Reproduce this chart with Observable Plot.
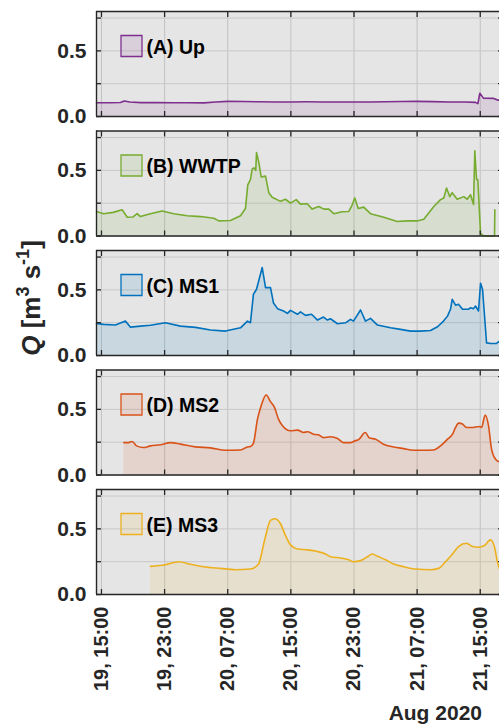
<!DOCTYPE html>
<html>
<head>
<meta charset="utf-8">
<script src="https://cdn.jsdelivr.net/npm/d3@7"></script>
<script src="https://cdn.jsdelivr.net/npm/@observablehq/plot@0.6"></script>
<style>
  html, body { margin: 0; padding: 0; overflow: hidden; background: white; }
  #chart { width: 499px; height: 726px; overflow: hidden; }
</style>
</head>
<body>
<div id="chart"></div>
<script>
// ---- Data (hours since 2020-08-19 00:00 UTC, discharge m3/s) ----
const sites = ["(A) Up", "(B) WWTP", "(C) MS1", "(D) MS2", "(E) MS3"];
const siteColors = ["#7E2F8E", "#77AC30", "#0072BD", "#D95319", "#EDB120"];

const upHours = [14.37, 16, 17.4, 17.9, 18.6, 20, 22, 24, 26, 28, 29.5, 31, 33, 35, 37, 39, 41, 43, 45, 47, 49, 51, 53, 55, 57, 59, 61, 62.4, 62.7, 62.95, 63.4, 64.7, 65.2, 65.44];
const upQ     = [0.105, 0.105, 0.107, 0.118, 0.11, 0.106, 0.107, 0.105, 0.105, 0.104, 0.11, 0.115, 0.114, 0.112, 0.11, 0.111, 0.112, 0.111, 0.111, 0.11, 0.111, 0.112, 0.114, 0.115, 0.113, 0.111, 0.11, 0.108, 0.098, 0.177, 0.14, 0.138, 0.125, 0.125];

const wwtpHours = [14.37, 15.29, 16.5, 17.62, 18.26, 19.0, 19.52, 19.94, 21.21, 22.69, 24.16, 25.86, 27.55, 29.23, 29.87, 31.35, 32.62, 33.25, 33.54, 33.88, 34.10, 34.30, 34.55, 34.65, 34.94, 35.24, 35.79, 36.20, 36.63, 37.69, 38.32, 38.95, 39.68, 40.22, 41.07, 41.70, 42.54, 43.18, 43.81, 44.44, 45.51, 46.34, 46.69, 47.10, 47.53, 48.24, 49.09, 50.78, 52.48, 53.75, 55.01, 55.85, 57.12, 57.97, 58.38, 58.73, 59.14, 59.45, 60.08, 60.92, 61.35, 61.77, 62.15, 62.31, 62.53, 62.69, 63.04, 63.46, 64.72, 64.81, 64.85];
const wwtpQ     = [0.187, 0.17, 0.18, 0.2, 0.143, 0.145, 0.17, 0.148, 0.17, 0.19, 0.17, 0.154, 0.148, 0.135, 0.115, 0.118, 0.154, 0.21, 0.39, 0.43, 0.51, 0.52, 0.5, 0.635, 0.56, 0.45, 0.456, 0.33, 0.295, 0.264, 0.28, 0.25, 0.277, 0.243, 0.246, 0.205, 0.225, 0.205, 0.205, 0.17, 0.185, 0.187, 0.225, 0.29, 0.21, 0.22, 0.17, 0.143, 0.11, 0.115, 0.115, 0.128, 0.225, 0.277, 0.29, 0.366, 0.3, 0.33, 0.28, 0.3, 0.28, 0.315, 0.24, 0.65, 0.43, 0.43, 0.02, 0.0, 0.0, 0.0, 0.2];

const ms1Hours = [14.37, 15.25, 16.77, 18.04, 18.68, 19.94, 21.21, 23.11, 25.01, 26.91, 28.82, 30.72, 32.62, 33.50, 33.88, 34.26, 34.65, 35.37, 35.79, 36.42, 36.80, 37.31, 38.07, 38.57, 38.95, 39.84, 40.22, 40.86, 41.62, 42.38, 43.14, 43.64, 44.02, 44.91, 45.93, 46.56, 46.94, 47.83, 48.46, 49.09, 49.98, 51.63, 52.90, 54.16, 55.43, 56.70, 57.59, 58.35, 58.85, 59.23, 59.45, 59.87, 60.25, 60.75, 61.51, 61.77, 62.15, 62.40, 62.78, 63.04, 63.29, 63.80, 64.31, 65.06, 65.44];
const ms1Q     = [0.245, 0.237, 0.232, 0.262, 0.216, 0.224, 0.23, 0.25, 0.224, 0.214, 0.194, 0.186, 0.211, 0.262, 0.25, 0.467, 0.505, 0.67, 0.517, 0.517, 0.4, 0.357, 0.339, 0.321, 0.344, 0.314, 0.333, 0.306, 0.314, 0.27, 0.293, 0.27, 0.28, 0.242, 0.249, 0.275, 0.262, 0.347, 0.262, 0.283, 0.232, 0.211, 0.199, 0.186, 0.186, 0.191, 0.219, 0.262, 0.3, 0.352, 0.428, 0.383, 0.39, 0.352, 0.352, 0.364, 0.357, 0.377, 0.339, 0.551, 0.505, 0.096, 0.092, 0.092, 0.11];

const ms2Hours = [17.83, 18.42, 18.89, 19.44, 20.32, 21.21, 22.48, 23.75, 25.01, 26.91, 28.82, 30.72, 32.62, 33.50, 33.88, 34.26, 34.77, 35.24, 35.87, 36.42, 36.93, 37.43, 37.94, 38.95, 39.84, 40.60, 41.11, 41.87, 42.50, 43.14, 44.02, 44.91, 45.67, 46.56, 47.19, 47.57, 48.42, 48.97, 49.73, 50.74, 52.01, 53.28, 54.54, 55.81, 57.08, 57.97, 58.85, 59.49, 59.87, 60.25, 60.75, 61.26, 61.89, 62.91, 63.16, 63.63, 64.05, 64.43, 64.94, 65.44];
const ms2Q     = [0.247, 0.247, 0.255, 0.222, 0.209, 0.222, 0.23, 0.247, 0.235, 0.214, 0.207, 0.189, 0.191, 0.214, 0.217, 0.243, 0.426, 0.528, 0.61, 0.559, 0.515, 0.426, 0.375, 0.337, 0.342, 0.324, 0.329, 0.311, 0.306, 0.285, 0.291, 0.278, 0.247, 0.247, 0.262, 0.268, 0.324, 0.281, 0.273, 0.235, 0.214, 0.201, 0.189, 0.189, 0.191, 0.222, 0.273, 0.311, 0.362, 0.395, 0.388, 0.362, 0.362, 0.37, 0.362, 0.457, 0.375, 0.197, 0.12, 0.1];

const ms3Hours = [21.21, 23.11, 24.80, 26.28, 27.93, 30.08, 31.98, 33.88, 34.90, 35.66, 36.42, 36.96, 37.69, 38.32, 38.95, 39.84, 41.11, 42.38, 43.39, 44.02, 45.29, 46.31, 46.94, 47.83, 48.71, 49.31, 49.98, 51.00, 52.01, 53.28, 54.80, 56.70, 57.71, 58.60, 59.49, 60.25, 61.26, 62.02, 62.78, 63.54, 64.31, 64.81, 65.19, 65.44];
const ms3Q     = [0.214, 0.227, 0.25, 0.23, 0.212, 0.199, 0.189, 0.194, 0.232, 0.41, 0.564, 0.577, 0.539, 0.449, 0.378, 0.347, 0.34, 0.327, 0.309, 0.288, 0.278, 0.265, 0.25, 0.258, 0.288, 0.309, 0.291, 0.265, 0.232, 0.212, 0.194, 0.189, 0.199, 0.25, 0.309, 0.365, 0.39, 0.365, 0.36, 0.373, 0.416, 0.36, 0.245, 0.194];

const tickHours = [15, 23, 31, 39, 47, 55, 63];
const yTicks = [0, 0.25, 0.5, 0.75];
const yLabelTicks = [0, 0.5];
const yDomain = [0, 0.8];
const domainHours = [14.37, 65.44];

// ---- Build ----
const t0 = Date.UTC(2020, 7, 19);
const toDate = h => new Date(t0 + h * 3600e3);

const seriesDefs = [
  {site: sites[0], color: siteColors[0], hours: upHours, q: upQ, curve: "linear"},
  {site: sites[1], color: siteColors[1], hours: wwtpHours, q: wwtpQ, curve: "linear"},
  {site: sites[2], color: siteColors[2], hours: ms1Hours, q: ms1Q, curve: "linear"},
  {site: sites[3], color: siteColors[3], hours: ms2Hours, q: ms2Q, curve: "monotone-x"},
  {site: sites[4], color: siteColors[4], hours: ms3Hours, q: ms3Q, curve: "monotone-x"}
];

const tickDates = tickHours.map(toDate);
const xDomain = domainHours.map(toDate);
const legendRows = sites.map((s, i) => ({site: s, color: siteColors[i]}));

const seriesMarks = seriesDefs.flatMap(s => {
  const rows = s.hours.map((h, i) => ({site: s.site, t: toDate(h), q: s.q[i]}));
  return [
    Plot.areaY(rows, {x: "t", y: "q", fy: "site", fill: s.color, fillOpacity: 0.12, curve: s.curve}),
    Plot.lineY(rows, {x: "t", y: "q", fy: "site", stroke: s.color, strokeWidth: 1.6, curve: s.curve})
  ];
});

const frameColor = "#262626";
const fontFamily = "'Liberation Sans', Arial, Helvetica, sans-serif";

const svg = Plot.plot({
  width: 499,
  height: 726,
  marginLeft: 96,
  marginRight: 0,
  marginTop: 11,
  marginBottom: 132,
  style: {fontFamily, fontWeight: "bold", color: frameColor, background: "white"},
  x: {type: "utc", domain: xDomain, label: null},
  y: {domain: yDomain, label: null},
  fy: {domain: sites, range: [11, 594], round: false, paddingInner: 0.1213, paddingOuter: 0, axis: null, label: null},
  marks: [
    Plot.frame({fill: "#e5e5e5", stroke: "none"}),
    Plot.gridX(tickDates, {stroke: "#c2c2c2", strokeOpacity: 1, strokeWidth: 1}),
    Plot.gridY(yTicks, {stroke: "#c8c8c8", strokeOpacity: 1, strokeWidth: 1}),
    ...seriesMarks,
    // box: left, top, bottom (right edge lies beyond the picture)
    Plot.ruleY(yDomain, {stroke: frameColor, strokeWidth: 1.4}),
    Plot.ruleX([xDomain[0]], {stroke: frameColor, strokeWidth: 1.4}),
    Plot.axisX(tickDates, {anchor: "top", tickSize: -5, tickFormat: () => "", facetAnchor: null, stroke: frameColor, strokeWidth: 1.3, label: null}),
    Plot.axisX(tickDates, {anchor: "bottom", tickSize: -5, tickFormat: () => "", facetAnchor: null, stroke: frameColor, strokeWidth: 1.3, label: null}),
    Plot.axisY(yTicks, {anchor: "left", tickSize: -5, tickFormat: () => "", stroke: frameColor, strokeWidth: 1.3, label: null}),
    Plot.axisY(yTicks, {anchor: "right", tickSize: -2, tickFormat: () => "", facetAnchor: null, stroke: frameColor, strokeWidth: 1.3, label: null}),
    Plot.axisY(yLabelTicks, {anchor: "left", tickSize: 0, tickPadding: 10, tickFormat: d3.format(".1f"), fontSize: 21, fontWeight: "bold", label: null}),
    Plot.axisX(tickDates, {anchor: "bottom", tickSize: 0, tickPadding: 12, tickRotate: -90, tickFormat: d3.utcFormat("%d, %H:%M"), fontSize: 20, fontWeight: "bold", label: null}),
    Plot.dot(legendRows, {fy: "site", frameAnchor: "top-left", dx: 35, dy: 34.5, symbol: "square", r: 11.85, fill: "color", fillOpacity: 0.12, stroke: "none"}),
    Plot.dot(legendRows, {fy: "site", frameAnchor: "top-left", dx: 35, dy: 34.5, symbol: "square", r: 11.85, fill: "none", stroke: "color", strokeWidth: 1.3}),
    Plot.text(legendRows, {fy: "site", frameAnchor: "top-left", dx: 50, dy: 36, text: "site", textAnchor: "start", lineAnchor: "middle", fontSize: 19.5, fontWeight: "bold", fill: "black"})
  ]
});

// Y-axis title and date label as real SVG text
const sel = d3.select(svg);
const yl = sel.append("text")
  .attr("transform", "translate(40,298) rotate(-90)")
  .attr("text-anchor", "middle")
  .attr("fill", frameColor)
  .style("font-family", fontFamily)
  .style("font-weight", "bold")
  .style("font-size", "26px");
yl.append("tspan").attr("font-style", "italic").text("Q");
yl.append("tspan").text(" [m");
yl.append("tspan").attr("dy", -11).style("font-size", "18px").text("3");
yl.append("tspan").attr("dy", 11).text(" s");
yl.append("tspan").attr("dy", -11).style("font-size", "18px").text("-1");
yl.append("tspan").attr("dy", 11).text("]");

sel.append("text")
  .attr("x", 482).attr("y", 720)
  .attr("text-anchor", "end")
  .attr("fill", frameColor)
  .style("font-family", fontFamily)
  .style("font-weight", "bold")
  .style("font-size", "21px")
  .text("Aug 2020");

document.getElementById("chart").appendChild(svg);
</script>
</body>
</html>
